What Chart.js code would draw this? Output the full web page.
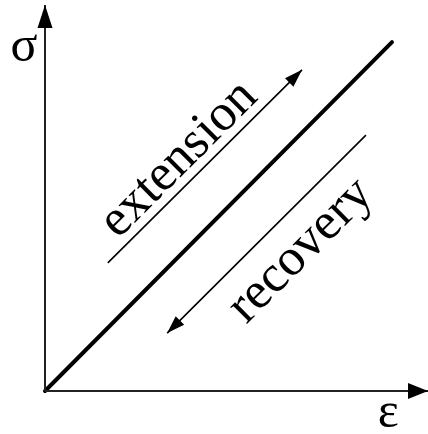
<!DOCTYPE html>
<html>
<head>
<meta charset="utf-8">
<script src="https://cdn.jsdelivr.net/npm/chart.js@4/dist/chart.umd.min.js"></script>
<style>
html,body{margin:0;padding:0;background:#fff;}
#wrap{width:428px;height:434px;position:relative;}
</style>
</head>
<body>
<div id="wrap"><canvas id="c"></canvas></div>
<script>
// Data (in axis units, 0..100)
const curveX = [0, 90.6];
const curveY = [0, 90.4];
const extensionX = [16.4, 67.1];
const extensionY = [33.2, 83.2];
const recoveryX = [83.8, 31.9];
const recoveryY = [66.3, 15.0];
const axisXLine = [[0, 0], [100, 0]];
const axisYLine = [[0, 0], [0, 100]];
const labels = ["extension", "recovery"];
const labelPos = [[35.0, 60.0], [66.8, 36.3]];
const axisTitles = ["σ", "ε"];
const axisTitlePos = [[-5.5, 89.0], [89.6, -6.0]];

const pts = (xs, ys) => xs.map((x, i) => ({x: x, y: ys[i]}));

const arrowPlugin = {
  id: 'arrows',
  afterDatasetsDraw(chart) {
    const ctx = chart.ctx;
    const xs = chart.scales.x, ys = chart.scales.y;
    const P = (x, y) => [xs.getPixelForValue(x), ys.getPixelForValue(y)];
    function head(from, to, len, hw) {
      const a = P(from[0], from[1]), b = P(to[0], to[1]);
      const dx = b[0] - a[0], dy = b[1] - a[1];
      const L = Math.hypot(dx, dy);
      const ux = dx / L, uy = dy / L;
      const bx = b[0] - ux * len, by = b[1] - uy * len;
      ctx.save();
      ctx.fillStyle = '#000';
      ctx.beginPath();
      ctx.moveTo(b[0], b[1]);
      ctx.lineTo(bx - uy * hw, by + ux * hw);
      ctx.lineTo(bx, by);
      ctx.lineTo(bx + uy * hw, by - ux * hw);
      ctx.closePath();
      ctx.fill();
      ctx.restore();
    }
    head(axisYLine[0], axisYLine[1], 23, 7.5);
    head(axisXLine[0], axisXLine[1], 20, 8);
    head([extensionX[0], extensionY[0]], [extensionX[1], extensionY[1]], 18, 6);
    head([recoveryX[0], recoveryY[0]], [recoveryX[1], recoveryY[1]], 18, 6);

    ctx.save();
    ctx.fillStyle = '#000';
    ctx.textAlign = 'center';
    ctx.textBaseline = 'middle';
    ctx.font = '52px "Liberation Serif", "Times New Roman", serif';
    labels.forEach((t, i) => {
      const p = P(labelPos[i][0], labelPos[i][1]);
      ctx.save();
      ctx.translate(p[0], p[1]);
      ctx.rotate(-Math.PI / 4);
      ctx.fillText(t, 0, 0);
      ctx.restore();
    });
    ctx.font = '50px "Liberation Serif", "Times New Roman", serif';
    axisTitles.forEach((t, i) => {
      const p = P(axisTitlePos[i][0], axisTitlePos[i][1]);
      ctx.fillText(t, p[0], p[1]);
    });
    ctx.restore();
  }
};

new Chart(document.getElementById('c'), {
  type: 'scatter',
  data: {
    datasets: [
      {data: axisYLine.map(p => ({x: p[0], y: p[1]})), showLine: true, borderColor: '#222', borderWidth: 2, pointRadius: 0, tension: 0},
      {data: axisXLine.map(p => ({x: p[0], y: p[1]})), showLine: true, borderColor: '#222', borderWidth: 2, pointRadius: 0, tension: 0},
      {data: pts(curveX, curveY), showLine: true, borderColor: '#000', borderWidth: 4, pointRadius: 0, tension: 0, borderCapStyle: 'round'},
      {data: pts(extensionX, extensionY), showLine: true, borderColor: '#000', borderWidth: 1.6, pointRadius: 0, tension: 0},
      {data: pts(recoveryX, recoveryY), showLine: true, borderColor: '#000', borderWidth: 1.6, pointRadius: 0, tension: 0}
    ]
  },
  options: {
    responsive: true,
    maintainAspectRatio: false,
    animation: false,
    events: [],
    layout: {padding: {left: 45, right: 0, top: 5, bottom: 43}},
    plugins: {legend: {display: false}, tooltip: {enabled: false}},
    scales: {
      x: {type: 'linear', min: 0, max: 100, display: false},
      y: {type: 'linear', min: 0, max: 100, display: false}
    },
    elements: {line: {borderJoinStyle: 'round'}},
    clip: false
  },
  plugins: [arrowPlugin]
});
</script>
</body>
</html>
